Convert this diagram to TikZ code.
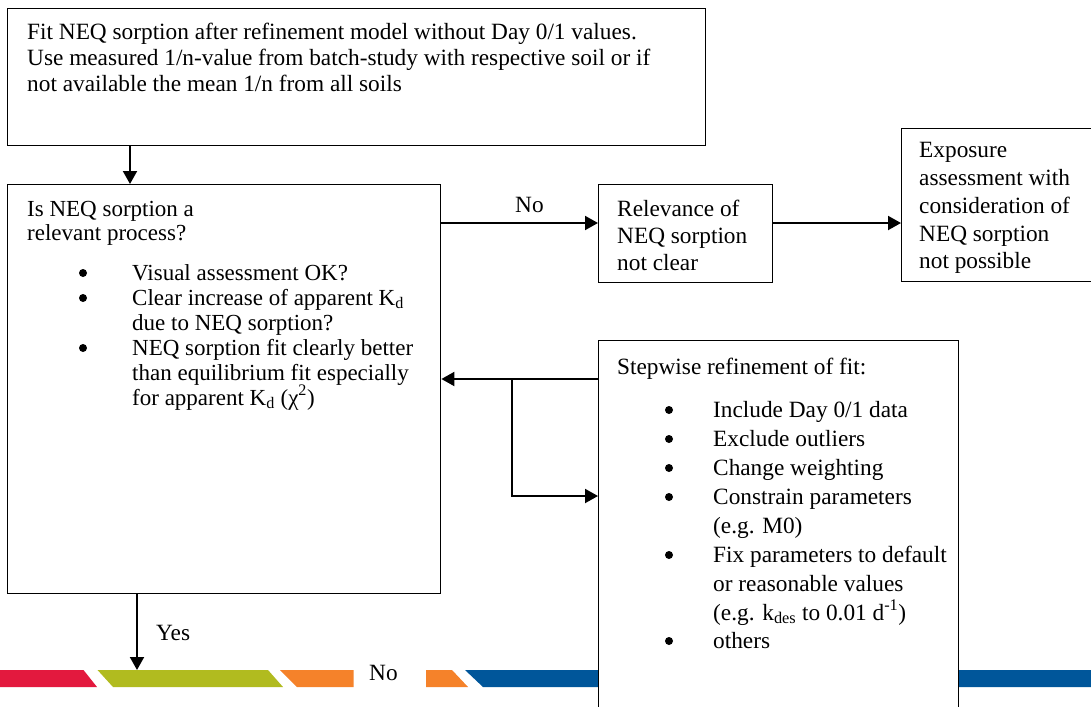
\documentclass[tikz,border=0pt]{standalone}
\usepackage{fontspec}
\setmainfont{Liberation Serif}
\usetikzlibrary{arrows.meta}
\definecolor{barred}{HTML}{E3193E}
\definecolor{bargreen}{HTML}{B1BB1F}
\definecolor{barorange}{HTML}{F5822A}
\definecolor{barblue}{HTML}{00569A}
\begin{document}
\begin{tikzpicture}[x=1pt,y=-1pt,
  box/.style={draw, line width=1.4pt, fill=white, inner sep=0pt, anchor=north west},
  ln/.style={anchor=base west, inner sep=0pt, font=\fontsize{23.3}{27}\selectfont},
  lns/.style={anchor=base west, inner sep=0pt, font=\fontsize{23}{25}\selectfont},
  bul/.style={circle, fill=black, inner sep=0pt, minimum size=8pt},
  arr/.style={line width=2pt, -{Triangle[length=13pt,width=14pt]}}
]
\useasboundingbox (0,0) rectangle (1091,706);
% bottom bar
\fill[barred] (0,670) -- (83.5,670) -- (97,687) -- (0,687) -- cycle;
\fill[bargreen] (97.5,670) -- (268,670) -- (283,687) -- (113,687) -- cycle;
\fill[barorange] (280,670) -- (353.5,670) -- (353.5,687) -- (297,687) -- cycle;
\fill[barorange] (426,670) -- (452,670) -- (468,687) -- (426,687) -- cycle;
\fill[barblue] (465,670) -- (1091,670) -- (1091,687) -- (483,687) -- cycle;
\node[ln] (nobar) at (369,680) {No};

% boxes
\node[box, minimum width=698pt, minimum height=137pt] (b1) at (7,8) {};
\node[box, minimum width=433pt, minimum height=409pt] (b2) at (7,184) {};
\node[box, minimum width=174pt, minimum height=98pt] (b3) at (598,184) {};
\node[box, minimum width=200pt, minimum height=153pt] (b4) at (901,128) {};
\node[box, minimum width=360pt, minimum height=390pt] (b5) at (598,340) {};

% box 1 text
\node[ln] (t1a) at (27,40) {Fit NEQ sorption after refinement model without Day 0/1 values.};
\node[ln] (t1b) at (27,66) {Use measured 1/n-value from batch-study with respective soil or if};
\node[ln] (t1c) at (27,92) {not available the mean 1/n from all soils};

% box 2 text
\node[lns] (t2a) at (27,216) {Is NEQ sorption a};
\node[lns] (t2b) at (27,240) {relevant process?};
\node[bul] (p2a) at (83,273) {};
\node[lns] (t2c) at (132,280) {Visual assessment OK?};
\node[bul] (p2b) at (83,298) {};
\node[lns] (t2d) at (132,305) {Clear increase of apparent K\textsubscript{d}};
\node[lns] (t2e) at (132,330) {due to NEQ sorption?};
\node[bul] (p2c) at (83,348) {};
\node[lns] (t2f) at (132,355) {NEQ sorption fit clearly better};
\node[lns] (t2g) at (132,380) {than equilibrium fit especially};
\node[lns] (t2h) at (132,405) {for apparent K\textsubscript{d} (χ\textsuperscript{2})};

% box 3 text
\node[ln] (t3a) at (617,216) {Relevance of};
\node[ln] (t3b) at (617,243) {NEQ sorption};
\node[ln] (t3c) at (617,270) {not clear};

% box 4 text
\node[ln] (t4a) at (919,157) {Exposure};
\node[ln] (t4b) at (919,185) {assessment with};
\node[ln] (t4c) at (919,213) {consideration of};
\node[ln] (t4d) at (919,241) {NEQ sorption};
\node[ln] (t4e) at (919,268) {not possible};

% box 5 text
\node[ln] (t5a) at (617,374) {Stepwise refinement of fit:};
\node[bul] (p5a) at (669,410) {};
\node[ln] (t5b) at (713,417) {Include Day 0/1 data};
\node[bul] (p5b) at (669,439) {};
\node[ln] (t5c) at (713,446) {Exclude outliers};
\node[bul] (p5c) at (669,468) {};
\node[ln] (t5d) at (713,475) {Change weighting};
\node[bul] (p5d) at (669,497) {};
\node[ln] (t5e) at (713,504) {Constrain parameters};
\node[ln] (t5f) at (713,533) {(e.g. M0)};
\node[bul] (p5e) at (669,555) {};
\node[ln] (t5g) at (713,562) {Fix parameters to default};
\node[ln] (t5h) at (713,591) {or reasonable values};
\node[ln] (t5i) at (713,620) {(e.g. k\textsubscript{des} to 0.01 d\textsuperscript{-1})};
\node[bul] (p5f) at (669,641) {};
\node[ln] (t5j) at (713,648) {others};

% connectors
\coordinate (ax1) at (130,0);
\coordinate (ax) at (137,0);
\coordinate (ny) at (0,223);
\coordinate (fb) at (0,379);
\coordinate (br) at (512,379);
\coordinate (br2) at (512,496);
\coordinate (bartop) at (137,670);
\draw[arr] (ax1 |- b1.south) -- (ax1 |- b2.north);
\draw[arr] (b2.east |- ny) -- (b3.west |- ny);
\node[ln] (no1) at (515,212) {No};
\draw[arr] (b3.east |- ny) -- (b4.west |- ny);
\draw[arr] (b5.west |- fb) -- (b2.east |- fb);
\draw[arr] (br) -- (br2) -- (b5.west |- br2);
\draw[arr] (ax |- b2.south) -- (bartop);
\node[ln] (yes) at (156,640) {Yes};
\end{tikzpicture}
\end{document}
